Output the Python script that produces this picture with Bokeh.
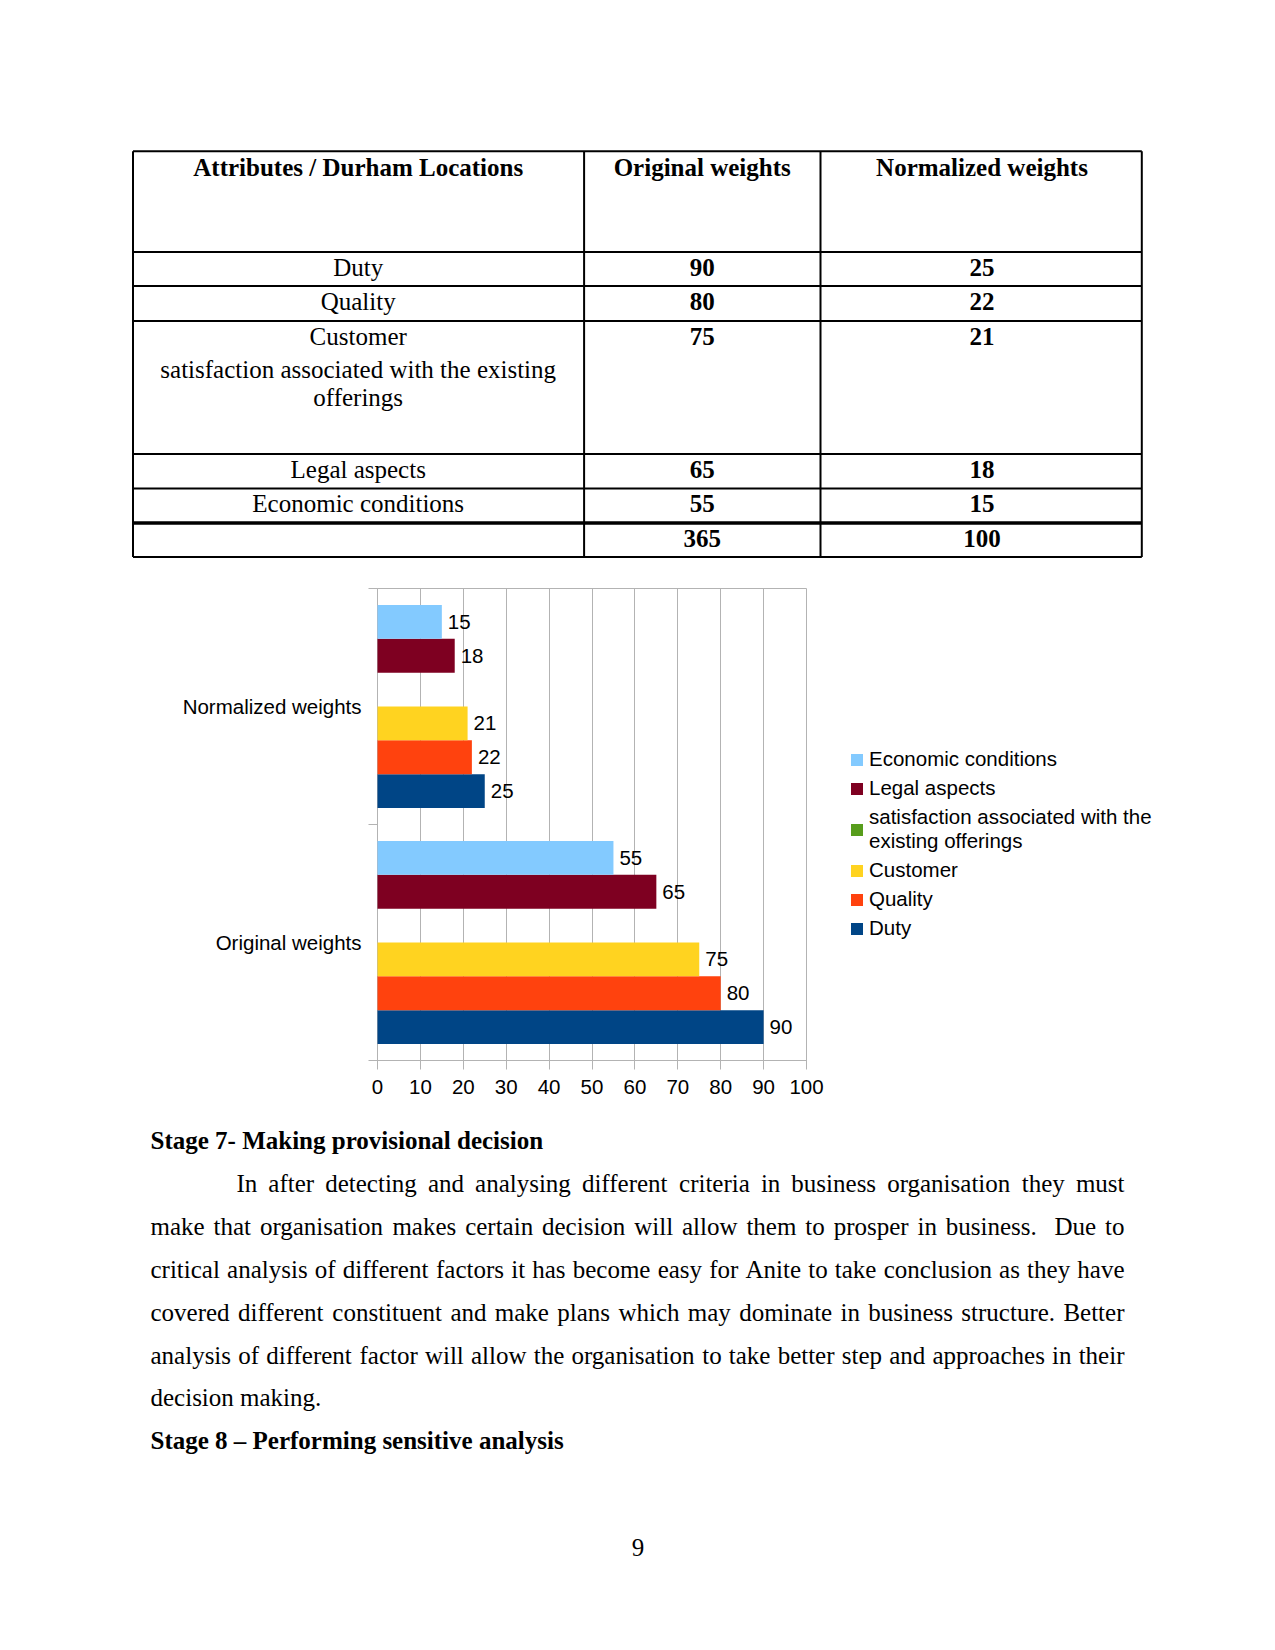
from bokeh.plotting import figure
from bokeh.models import Range1d, ColumnDataSource, LinearAxis, FixedTicker, Legend, LegendItem
from bokeh.core.properties import value
from bokeh.embed import file_html
from bokeh.resources import INLINE

# ---------------- data ----------------
table_header = ["Attributes / Durham Locations", "Original weights", "Normalized weights"]
table_attributes = [["Duty"], ["Quality"],
                    ["Customer", "satisfaction associated with the existing", "offerings"],
                    ["Legal aspects"], ["Economic conditions"]]
table_original = [90, 80, 75, 65, 55]
table_normalized = [25, 22, 21, 18, 15]
table_totals = ["365", "100"]

chart_categories = ["Original weights", "Normalized weights"]
duty = [90, 25]
quality = [80, 22]
customer = [75, 21]
satisfaction = [None, None]
legal = [65, 18]
economic = [55, 15]
series_names = ["Duty", "Quality", "Customer",
                "satisfaction associated with the\nexisting offerings",
                "Legal aspects", "Economic conditions"]
series_values = [duty, quality, customer, satisfaction, legal, economic]
series_colors = ["#004586", "#ff420e", "#ffd320", "#579d1c", "#7e0021", "#83caff"]
x_ticks = [0, 10, 20, 30, 40, 50, 60, 70, 80, 90, 100]

heading_7 = "Stage 7- Making provisional decision"
paragraph_lines = [
    "In after detecting and analysing different criteria in business organisation they must",
    "make that organisation makes certain decision will allow them to prosper in business.  Due to",
    "critical analysis of different factors it has become easy for Anite to take conclusion as they have",
    "covered different constituent and make plans which may dominate in business structure. Better",
    "analysis of different factor will allow the organisation to take better step and approaches in their",
    "decision making.",
]
heading_8 = "Stage 8 \u2013 Performing sensitive analysis"
page_number = "9"

# ---------------- styles / layout ----------------
SERIF = value("Liberation Serif")
SANS = value("Liberation Sans")
BODY = "25px"
CHART_FS = "20.5px"
GRAY = "#b3b3b3"
PW, PH = 1275, 1650

TIMES_W = {' ': 250, 'a': 444, 'b': 500, 'c': 444, 'd': 500, 'e': 444, 'f': 333, 'g': 500, 'h': 500,
           'i': 278, 'j': 278, 'k': 500, 'l': 278, 'm': 778, 'n': 500, 'o': 500, 'p': 500, 'q': 500,
           'r': 333, 's': 389, 't': 278, 'u': 500, 'v': 500, 'w': 722, 'x': 500, 'y': 500, 'z': 444,
           'A': 722, 'B': 667, 'C': 667, 'D': 722, 'E': 611, 'F': 556, 'G': 722, 'H': 722, 'I': 333,
           'J': 389, 'K': 722, 'L': 611, 'M': 889, 'N': 722, 'O': 722, 'P': 556, 'Q': 722, 'R': 667,
           'S': 556, 'T': 611, 'U': 722, 'V': 722, 'W': 944, 'X': 722, 'Y': 722, 'Z': 611,
           '.': 250, ',': 250, '-': 333}


def tw(s, size=25.0):
    return sum(TIMES_W.get(ch, 500) for ch in s) * size / 1000.0


p = figure(width=PW, height=PH, x_range=Range1d(0, PW), y_range=Range1d(PH, 0),
           output_backend="svg", toolbar_location=None, min_border=0,
           x_axis_location=None, y_axis_location=None)
p.grid.visible = False
p.outline_line_color = None
p.background_fill_color = "white"
p.border_fill_color = "white"

# ---------------- table ----------------
xs_v = [132.5, 583.6, 820.0, 1141.3]
ys_h = [150.7, 251.4, 285.6, 320.4, 453.6, 488.0, 522.5, 556.6]
p.segment(x0=xs_v, y0=[ys_h[0]] * 4, x1=xs_v, y1=[ys_h[-1]] * 4, line_color="black", line_width=2)
hw = [2, 2, 2, 2, 2, 2, 3.5, 2]
p.segment(x0=[xs_v[0]] * len(ys_h), y0=ys_h, x1=[xs_v[-1]] * len(ys_h), y1=ys_h,
          line_color="black", line_width=hw)

col_cx = [357.7, 701.7, 981.5]
p.text(x=col_cx, y=[167.3] * 3, text=table_header, text_font=SERIF, text_font_size=BODY,
       text_font_style="bold", text_align="center", text_baseline="middle", text_color="black")

row_y = [267.2, 300.9, 335.6, 469.2, 502.9]
sub_dy = [0, 33.7, 61.0]
ax, ay, at = [], [], []
for ry, lines in zip(row_y, table_attributes):
    for j, ln in enumerate(lines):
        ax.append(col_cx[0]); ay.append(ry + sub_dy[j]); at.append(ln)
p.text(x=ax, y=ay, text=at, text_font=SERIF, text_font_size=BODY, text_align="center",
       text_baseline="middle", text_color="black")
p.text(x=[col_cx[1]] * len(row_y) + [col_cx[2]] * len(row_y) + col_cx[1:],
       y=row_y + row_y + [537.6, 537.6],
       text=[str(v) for v in table_original] + [str(v) for v in table_normalized] + table_totals,
       text_font=SERIF, text_font_size=BODY, text_font_style="bold", text_align="center",
       text_baseline="middle", text_color="black")

# ---------------- chart (own scales via extra ranges) ----------------
CX0, CX1 = 377.0, 806.0      # page px of value 0 and 100
CY_TOP, CY_BOT = 588.0, 1060.0
ncat = len(chart_categories)
xmax = x_ticks[-1]
kx = (CX1 - CX0) / xmax
ky = (CY_BOT - CY_TOP) / ncat
p.extra_x_ranges = {"chart": Range1d(-CX0 / kx, (PW - CX0) / kx)}
p.extra_y_ranges = {"chart": Range1d(-(PH - CY_BOT) / ky, ncat + CY_TOP / ky)}
CH = dict(x_range_name="chart", y_range_name="chart")

# x axis with long inward ticks acting as vertical grid lines
xaxis = LinearAxis(fixed_location=0, bounds=(0, xmax), ticker=FixedTicker(ticks=x_ticks), **CH)
xaxis.level = "underlay"
xaxis.axis_line_color = GRAY
xaxis.major_tick_line_color = GRAY
xaxis.major_tick_out = 9
xaxis.major_tick_in = int(CY_BOT - CY_TOP)
xaxis.minor_tick_line_color = None
xaxis.major_label_standoff = 10
xaxis.major_label_text_font = "Liberation Sans"
xaxis.major_label_text_font_size = CHART_FS
xaxis.major_label_text_color = "black"
p.add_layout(xaxis, "below")

# top border of the plot area
topaxis = LinearAxis(fixed_location=ncat, bounds=(0, xmax), ticker=FixedTicker(ticks=[]), **CH)
topaxis.level = "underlay"
topaxis.axis_line_color = GRAY
topaxis.major_tick_line_color = None
topaxis.minor_tick_line_color = None
topaxis.major_label_text_font_size = "0px"
p.add_layout(topaxis, "above")

# category axis
yaxis = LinearAxis(fixed_location=0, bounds=(0, ncat),
                   ticker=FixedTicker(ticks=[k + 0.5 for k in range(ncat)],
                                      minor_ticks=list(range(ncat + 1))), **CH)
yaxis.level = "underlay"
yaxis.major_label_overrides = {k + 0.5: cat for k, cat in enumerate(chart_categories)}
yaxis.axis_line_color = GRAY
yaxis.major_tick_line_color = None
yaxis.major_tick_out = 9
yaxis.major_tick_in = 0
yaxis.minor_tick_line_color = GRAY
yaxis.minor_tick_out = 9
yaxis.minor_tick_in = 0
yaxis.major_label_standoff = 7
yaxis.major_label_text_font = "Liberation Sans"
yaxis.major_label_text_font_size = CHART_FS
yaxis.major_label_text_color = "black"
p.add_layout(yaxis, "left")

n = len(series_values)
slot = 0.86 / n
renderers = []
for i, (name, vals, col) in enumerate(zip(series_names, series_values, series_colors)):
    ys = [k + 0.5 + (i - (n - 1) / 2.0) * slot for k in range(ncat)]
    rights = [float("nan") if v is None else v for v in vals]
    labels = ["" if v is None else str(v) for v in vals]
    src = ColumnDataSource(dict(y=ys, right=rights, label=labels))
    r = p.hbar(y="y", left=0, right="right", height=slot, fill_color=col, line_color=None,
               source=src, **CH)
    renderers.append(r)
    p.text(x="right", y="y", text="label", source=src, x_offset=6, text_font=SANS,
           text_font_size=CHART_FS, text_align="left", text_baseline="middle",
           text_color="black", **CH)

legend = Legend(items=[LegendItem(label=series_names[i], renderers=[renderers[i]])
                       for i in reversed(range(n))],
                location=(849, PH - 940), padding=0, margin=0, spacing=5,
                glyph_width=15, glyph_height=15, label_standoff=5, label_height=20,
                label_text_font="Liberation Sans", label_text_font_size=CHART_FS,
                label_text_color="black", border_line_color=None, background_fill_alpha=0)
p.add_layout(legend, "center")

# ---------------- body text ----------------
LEFT, RIGHT, INDENT = 150.0, 1124.0, 236.0
p.text(x=[LEFT, LEFT], y=[1140.0, 1440.0], text=[heading_7, heading_8], text_font=SERIF,
       text_font_size=BODY, text_font_style="bold", text_align="left", text_baseline="middle",
       text_color="black")
line_y = [1182.7, 1226.0, 1269.3, 1311.7, 1355.0, 1397.3]
wx, wy, wt = [], [], []
for li, (ln, y) in enumerate(zip(paragraph_lines, line_y)):
    x0 = INDENT if li == 0 else LEFT
    tokens = ln.split(" ")
    widths = [tw(t) for t in tokens]
    if li == len(paragraph_lines) - 1 or len(tokens) < 2:
        gap = tw(" ")
    else:
        gap = (RIGHT - x0 - sum(widths)) / (len(tokens) - 1)
    x = x0
    for t, w_ in zip(tokens, widths):
        if t:
            wx.append(x); wy.append(y); wt.append(t)
        x += w_ + gap
p.text(x=wx, y=wy, text=wt, text_font=SERIF, text_font_size=BODY, text_align="left",
       text_baseline="middle", text_color="black")
p.text(x=[637.5], y=[1546.5], text=[page_number], text_font=SERIF, text_font_size=BODY,
       text_align="center", text_baseline="middle", text_color="black")

open("out.html", "w").write(file_html(p, INLINE))
